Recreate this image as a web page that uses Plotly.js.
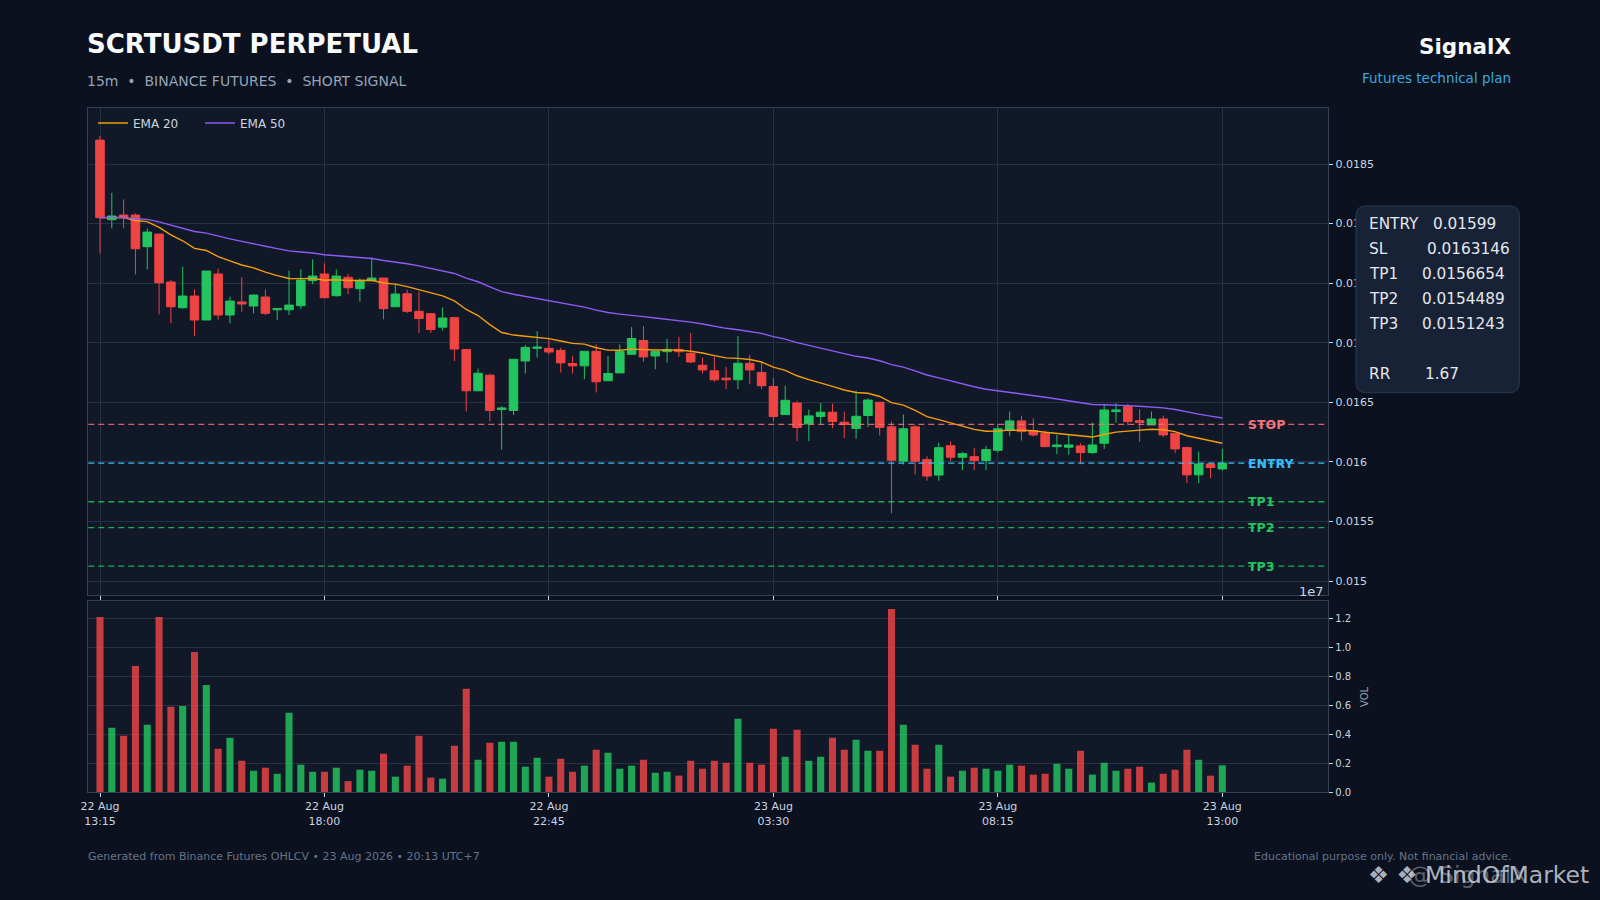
<!DOCTYPE html>
<html>
<head>
<meta charset="utf-8">
<script src="https://cdn.plot.ly/plotly-3.0.1.min.js"></script>
<style>
  html, body { margin: 0; padding: 0; background: #0b111e; }
  #chart { width: 1600px; height: 900px; }
</style>
</head>
<body>
<div id="chart"></div>
<script>
// ---------------- DATA ----------------
const startTime = "2026-08-22 13:15";   // first 15m candle
const intervalMinutes = 15;

const openPrice = [
  0.018701, 0.018033, 0.018072, 0.018072, 0.017806, 0.017912, 0.017510, 0.017294, 0.017392, 0.017191,
  0.017577, 0.017233, 0.017342, 0.017308, 0.017384, 0.017277, 0.017277, 0.017311, 0.017521, 0.017577,
  0.017395, 0.017549, 0.017454, 0.017521, 0.017543, 0.017302, 0.017411, 0.017264, 0.017244, 0.017131,
  0.017211, 0.016944, 0.016597, 0.016728, 0.016439, 0.016431, 0.016847, 0.016953, 0.016953, 0.016936,
  0.016825, 0.016806, 0.016928, 0.016681, 0.016747, 0.016903, 0.017019, 0.016889, 0.016925, 0.016944,
  0.016911, 0.016811, 0.016764, 0.016703, 0.016689, 0.016828, 0.016750, 0.016633, 0.016397, 0.016494,
  0.016319, 0.016381, 0.016417, 0.016333, 0.016281, 0.016389, 0.016500, 0.016294, 0.016006, 0.016294,
  0.016019, 0.015889, 0.016136, 0.016039, 0.016044, 0.016011, 0.016097, 0.016268, 0.016344, 0.016263,
  0.016240, 0.016128, 0.016123, 0.016134, 0.016078, 0.016156, 0.016422, 0.016464, 0.016346, 0.016310,
  0.016360, 0.016240, 0.016120, 0.015891, 0.015983, 0.015941
];
const highPrice = [
  0.018735, 0.018259, 0.018203, 0.018086, 0.017960, 0.017912, 0.017526, 0.017638, 0.017448, 0.017602,
  0.017624, 0.017386, 0.017549, 0.017409, 0.017448, 0.017288, 0.017605, 0.017616, 0.017700, 0.017666,
  0.017616, 0.017577, 0.017540, 0.017717, 0.017543, 0.017493, 0.017444, 0.017431, 0.017250, 0.017297,
  0.017211, 0.016944, 0.016783, 0.016736, 0.016467, 0.016861, 0.016983, 0.017097, 0.017028, 0.016958,
  0.016889, 0.016928, 0.016986, 0.016889, 0.016986, 0.017131, 0.017139, 0.016928, 0.017033, 0.017050,
  0.017083, 0.016875, 0.016883, 0.016797, 0.017056, 0.016897, 0.016833, 0.016703, 0.016639, 0.016514,
  0.016439, 0.016494, 0.016489, 0.016422, 0.016597, 0.016533, 0.016500, 0.016339, 0.016397, 0.016311,
  0.016047, 0.016161, 0.016172, 0.016083, 0.016117, 0.016133, 0.016319, 0.016422, 0.016388, 0.016366,
  0.016263, 0.016226, 0.016226, 0.016156, 0.016330, 0.016478, 0.016492, 0.016486, 0.016441, 0.016422,
  0.016388, 0.016240, 0.016128, 0.016087, 0.015994, 0.016109
];
const lowPrice = [
  0.017750, 0.017960, 0.017960, 0.017574, 0.017616, 0.017238, 0.017163, 0.017283, 0.017056, 0.017191,
  0.017196, 0.017163, 0.017260, 0.017247, 0.017233, 0.017191, 0.017233, 0.017283, 0.017493, 0.017378,
  0.017386, 0.017409, 0.017344, 0.017521, 0.017196, 0.017302, 0.017250, 0.017083, 0.017083, 0.017103,
  0.016847, 0.016422, 0.016597, 0.016339, 0.016103, 0.016394, 0.016742, 0.016875, 0.016903, 0.016750,
  0.016742, 0.016694, 0.016583, 0.016681, 0.016747, 0.016903, 0.016842, 0.016778, 0.016833, 0.016883,
  0.016828, 0.016742, 0.016672, 0.016611, 0.016611, 0.016653, 0.016611, 0.016339, 0.016397, 0.016175,
  0.016175, 0.016317, 0.016283, 0.016200, 0.016194, 0.016292, 0.016222, 0.015569, 0.015978, 0.015894,
  0.015842, 0.015842, 0.016006, 0.015931, 0.015931, 0.015931, 0.016078, 0.016218, 0.016179, 0.016212,
  0.016123, 0.016064, 0.016059, 0.015980, 0.016067, 0.016109, 0.016330, 0.016310, 0.016170, 0.016310,
  0.016207, 0.016073, 0.015821, 0.015821, 0.015863, 0.015925
];
const closePrice = [
  0.018050, 0.018064, 0.018052, 0.017789, 0.017929, 0.017504, 0.017302, 0.017392, 0.017191, 0.017602,
  0.017233, 0.017350, 0.017325, 0.017400, 0.017247, 0.017288, 0.017316, 0.017526, 0.017560, 0.017378,
  0.017560, 0.017462, 0.017521, 0.017543, 0.017286, 0.017409, 0.017264, 0.017203, 0.017111, 0.017208,
  0.016947, 0.016597, 0.016744, 0.016431, 0.016453, 0.016861, 0.016961, 0.016964, 0.016922, 0.016831,
  0.016806, 0.016928, 0.016672, 0.016742, 0.016928, 0.017036, 0.016881, 0.016928, 0.016944, 0.016925,
  0.016839, 0.016772, 0.016689, 0.016689, 0.016828, 0.016772, 0.016639, 0.016381, 0.016517, 0.016289,
  0.016386, 0.016417, 0.016339, 0.016314, 0.016383, 0.016519, 0.016289, 0.016014, 0.016278, 0.016006,
  0.015881, 0.016119, 0.016039, 0.016069, 0.016011, 0.016103, 0.016278, 0.016344, 0.016254, 0.016226,
  0.016128, 0.016142, 0.016142, 0.016078, 0.016142, 0.016436, 0.016436, 0.016338, 0.016330, 0.016360,
  0.016226, 0.016109, 0.015891, 0.015983, 0.015953, 0.015990
];
// volume in units of 1e7
const volume1e7 = [
  1.209, 0.444, 0.389, 0.871, 0.464, 1.209, 0.589, 0.595, 0.968, 0.740,
  0.299, 0.375, 0.216, 0.147, 0.168, 0.126, 0.547, 0.189, 0.140, 0.140,
  0.168, 0.075, 0.154, 0.147, 0.264, 0.106, 0.182, 0.389, 0.099, 0.092,
  0.320, 0.713, 0.223, 0.340, 0.347, 0.347, 0.175, 0.237, 0.106, 0.230,
  0.140, 0.182, 0.292, 0.271, 0.161, 0.182, 0.223, 0.133, 0.140, 0.113,
  0.216, 0.161, 0.216, 0.202, 0.506, 0.202, 0.189, 0.437, 0.244, 0.430,
  0.216, 0.244, 0.375, 0.292, 0.361, 0.285, 0.285, 1.264, 0.464, 0.326,
  0.161, 0.326, 0.106, 0.147, 0.168, 0.161, 0.147, 0.189, 0.182, 0.120,
  0.126, 0.195, 0.161, 0.285, 0.120, 0.202, 0.147, 0.161, 0.175, 0.065,
  0.126, 0.154, 0.292, 0.223, 0.113, 0.185
];

const levelNames  = ["STOP", "ENTRY", "TP1", "TP2", "TP3"];
const levelValues = [0.0163146, 0.01599, 0.0156654, 0.0154489, 0.0151243];

const planLabels = ["ENTRY", "SL", "TP1", "TP2", "TP3", "RR"];
const planValues = ["0.01599", "0.0163146", "0.0156654", "0.0154489", "0.0151243", "1.67"];

const emaPeriods = [20, 50];
const emaNames = ["EMA 20", "EMA 50"];

// ---------------- HELPERS ----------------
const startMs = Date.UTC(2026, 7, 22, 13, 15);
const stepMs = intervalMinutes * 60000;
function fmt(ms) { return new Date(ms).toISOString().slice(0, 19).replace("T", " "); }
const times = closePrice.map((_, i) => fmt(startMs + i * stepMs));

function ema(values, period) {
  const k = 2 / (period + 1);
  const out = [];
  let prev = values[0];
  values.forEach((v, i) => { prev = i === 0 ? v : v * k + prev * (1 - k); out.push(prev); });
  return out;
}

// ---------------- STYLE ----------------
const FONT = "DejaVu Sans, Verdana, sans-serif";
const UP = "#22c55e", DOWN = "#ef4444";
const UP_VOL = "rgba(34,197,94,0.82)", DOWN_VOL = "rgba(239,68,68,0.82)";
const GRID = "#263142", FRAME = "#334155", TICKTXT = "#cbd5e1";
const levelColors = ["rgba(248,113,113,0.85)", "#38bdf8", "rgba(34,197,94,0.85)", "rgba(34,197,94,0.85)", "rgba(34,197,94,0.85)"];
const levelTextColors = ["#f0747c", "#38bdf8", "#22c55e", "#22c55e", "#22c55e"];
const emaColors = ["#f59e0b", "#8b5cf6"];

const X0 = 88.3 / 1600, X1 = 1328.3 / 1600;
const xRange = [fmt(startMs - 0.99 * stepMs), fmt(startMs + 103.97 * stepMs)];

// ---------------- TRACES ----------------
const traces = [];
traces.push({
  type: "candlestick", x: times, open: openPrice, high: highPrice, low: lowPrice, close: closePrice,
  xaxis: "x", yaxis: "y", showlegend: false, hoverinfo: "skip", whiskerwidth: 0,
  increasing: { line: { color: UP, width: 1 }, fillcolor: UP },
  decreasing: { line: { color: DOWN, width: 1 }, fillcolor: DOWN }
});
emaPeriods.forEach((p, j) => {
  traces.push({
    type: "scatter", mode: "lines", x: times, y: ema(closePrice, p), name: emaNames[j],
    legend: j === 0 ? "legend" : "legend2",
    xaxis: "x", yaxis: "y", line: { color: emaColors[j], width: 1.4 }, hoverinfo: "skip"
  });
});
traces.push({
  type: "bar", x: times, y: volume1e7, xaxis: "x2", yaxis: "y2", showlegend: false, hoverinfo: "skip",
  marker: { color: closePrice.map((c, i) => c >= openPrice[i] ? UP_VOL : DOWN_VOL), line: { width: 0 } }
});

// ---------------- SHAPES & ANNOTATIONS ----------------
const shapes = [];
levelValues.forEach((v, i) => {
  shapes.push({ type: "line", xref: "paper", yref: "y", x0: X0, x1: X1, y0: v, y1: v, layer: "above",
    line: { color: levelColors[i], width: 1.3, dash: "6px,4px" } });
});
// info box (rounded)
const bx0 = 1356 / 1600, bx1 = 1519.3 / 1600, by0 = 1 - 392.7 / 900, by1 = 1 - 206 / 900;
const rx = 10 / 1600, ry = 10 / 900;
shapes.push({
  type: "path", xref: "paper", yref: "paper", layer: "above",
  path: `M ${bx0 + rx} ${by1} L ${bx1 - rx} ${by1} Q ${bx1} ${by1} ${bx1} ${by1 - ry} L ${bx1} ${by0 + ry} Q ${bx1} ${by0} ${bx1 - rx} ${by0} L ${bx0 + rx} ${by0} Q ${bx0} ${by0} ${bx0} ${by0 + ry} L ${bx0} ${by1 - ry} Q ${bx0} ${by1} ${bx0 + rx} ${by1} Z`,
  fillcolor: "#172236", line: { color: "#2c3a50", width: 1 }
});

const ann = [];
const py = px => 1 - px / 900, pxx = px => px / 1600;
ann.push({ text: "<b>SCRTUSDT PERPETUAL</b>", x: pxx(84.5), y: py(44.5), xanchor: "left", yanchor: "middle",
  font: { family: FONT, size: 26, color: "#f8fafc" } });
ann.push({ text: "15m \u00a0•\u00a0 BINANCE FUTURES \u00a0•\u00a0 SHORT SIGNAL", x: pxx(85), y: py(81.5), xanchor: "left", yanchor: "middle",
  font: { family: FONT, size: 14, color: "#94a3b8" } });
ann.push({ text: "<b>SignalX</b>", x: pxx(1513), y: py(46.5), xanchor: "right", yanchor: "middle",
  font: { family: FONT, size: 21.5, color: "#f8fafc" } });
ann.push({ text: "Futures technical plan", x: pxx(1513), y: py(77.5), xanchor: "right", yanchor: "middle",
  font: { family: FONT, size: 13.5, color: "#3aa8de" } });
ann.push({ text: "Generated from Binance Futures OHLCV • 23 Aug 2026 • 20:13 UTC+7", x: pxx(86), y: py(856), xanchor: "left", yanchor: "middle",
  font: { family: FONT, size: 11, color: "#64748b" } });
ann.push({ text: "Educational purpose only. Not financial advice.", x: pxx(1513), y: py(856), xanchor: "right", yanchor: "middle",
  font: { family: FONT, size: 11, color: "#64748b" } });
ann.push({ text: "1e7", x: X1 - 2 / 1600, y: py(591), xanchor: "right", yanchor: "middle",
  font: { family: FONT, size: 13, color: TICKTXT } });
ann.push({ text: "VOL", x: pxx(1364), y: py(697), xanchor: "center", yanchor: "middle", textangle: -90,
  font: { family: FONT, size: 10, color: "#94a3b8" } });
levelNames.forEach((n, i) => {
  ann.push({ text: "<b>" + n + "</b>", xref: "paper", yref: "y", x: pxx(1246), y: levelValues[i], xanchor: "left", yanchor: "middle",
    font: { family: FONT, size: 12.5, color: levelTextColors[i] } });
});
const planY = [224, 249, 274, 299, 324, 374];
const planValX = [1431, 1424.5, 1420, 1420, 1420, 1423];
planLabels.forEach((l, i) => {
  ann.push({ text: l, x: pxx(1367), y: py(planY[i]), xanchor: "left", yanchor: "middle",
    font: { family: FONT, size: 15.3, color: "#e5e7eb" } });
  ann.push({ text: planValues[i], x: pxx(planValX[i]), y: py(planY[i]), xanchor: "left", yanchor: "middle",
    font: { family: FONT, size: 15.3, color: "#e5e7eb" } });
});
// watermark (two overlapping marks, as in the source image)
ann.push({ text: "❖ ❖ MindOfMarket", x: pxx(1366), y: py(875), xanchor: "left", yanchor: "middle",
  font: { family: FONT, size: 23.5, color: "rgba(215,220,228,0.8)" } });
ann.push({ text: "@ SignalX", x: pxx(1406), y: py(875), xanchor: "left", yanchor: "middle",
  font: { family: FONT, size: 23.5, color: "rgba(215,220,228,0.4)" } });
ann.forEach(a => { if (!a.xref) a.xref = "paper"; if (!a.yref) a.yref = "paper"; a.showarrow = false; });

// ---------------- LAYOUT ----------------
const xCommon = {
  type: "date", range: xRange, tick0: times[0], dtick: 19 * stepMs, ticks: "outside", ticklen: 4,
  tickcolor: TICKTXT, showline: true, linecolor: FRAME, mirror: true, zeroline: false, fixedrange: true
};
const legendCommon = { orientation: "h", yanchor: "middle", xanchor: "left", y: py(123),
  bgcolor: "rgba(0,0,0,0)", font: { family: FONT, size: 12, color: TICKTXT }, itemwidth: 30 };
const layout = {
  width: 1600, height: 900, autosize: false,
  margin: { l: 0, r: 0, t: 0, b: 0 },
  paper_bgcolor: "#0b111e", plot_bgcolor: "#111827",
  font: { family: FONT, color: TICKTXT, size: 11 },
  showlegend: true,
  legend: Object.assign({}, legendCommon, { x: pxx(93) }),
  legend2: Object.assign({}, legendCommon, { x: pxx(200) }),
  xaxis: Object.assign({}, xCommon, { domain: [X0, X1], anchor: "y", showticklabels: false,
    showgrid: true, gridcolor: GRID, gridwidth: 1, rangeslider: { visible: false } }),
  yaxis: { domain: [1 - 595.3 / 900, 1 - 108.3 / 900], anchor: "x", side: "right", range: [0.01488, 0.018968],
    tick0: 0.015, dtick: 0.0005, tickformat: ".4~f", ticks: "outside", ticklen: 4, tickcolor: TICKTXT,
    showgrid: true, gridcolor: GRID, zeroline: false, showline: true, linecolor: FRAME, mirror: true,
    tickfont: { size: 11, color: TICKTXT }, fixedrange: true },
  xaxis2: Object.assign({}, xCommon, { domain: [X0, X1], anchor: "y2", showticklabels: true, showgrid: false,
    tickformat: "%d %b<br>%H:%M", tickfont: { size: 11, color: TICKTXT } }),
  yaxis2: { domain: [1 - 792 / 900, 1 - 600.5 / 900], anchor: "x2", side: "right", range: [0, 1.323],
    dtick: 0.2, tickformat: ".1f", ticks: "outside", ticklen: 4, tickcolor: TICKTXT,
    showgrid: true, gridcolor: GRID, zeroline: false, showline: true, linecolor: FRAME, mirror: true,
    tickfont: { size: 10, color: TICKTXT }, fixedrange: true },
  bargap: 0.4,
  boxgap: 0.15,
  boxgroupgap: 0.15,
  shapes: shapes,
  annotations: ann
};

Plotly.newPlot("chart", traces, layout, { displayModeBar: false, staticPlot: true });
</script>
</body>
</html>
